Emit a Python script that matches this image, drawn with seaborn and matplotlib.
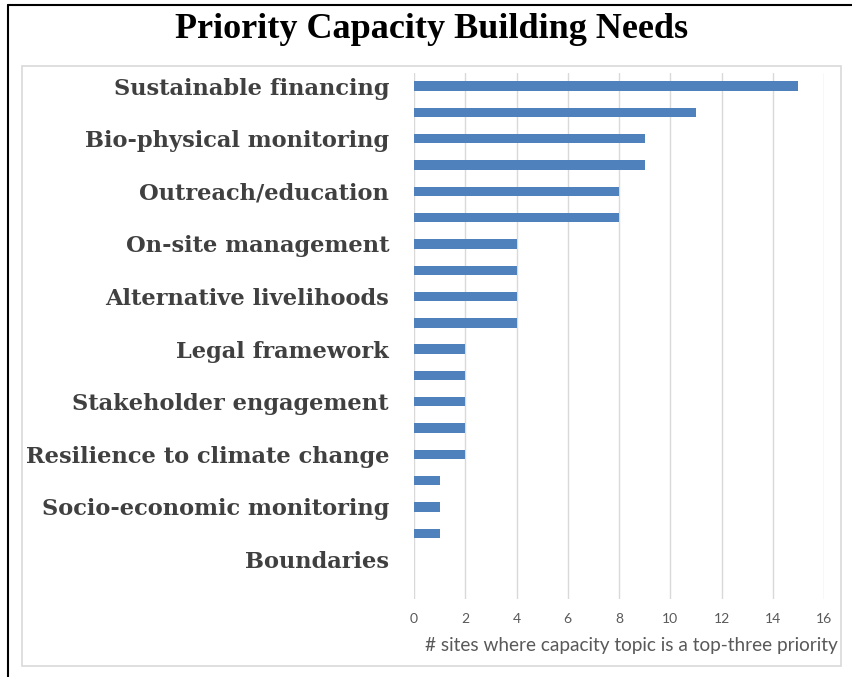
import matplotlib
matplotlib.use('Agg')
import matplotlib.pyplot as plt
import seaborn as sns
import pandas as pd
from matplotlib.lines import Line2D
from matplotlib.patches import Rectangle

# Data (20 categories; only every other label is shown in the original chart)
categories = ["Sustainable financing", "Topic 2", "Bio-physical monitoring", "Topic 4",
              "Outreach/education", "Topic 6", "On-site management", "Topic 8",
              "Alternative livelihoods", "Topic 10", "Legal framework", "Topic 12",
              "Stakeholder engagement", "Topic 14", "Resilience to climate change", "Topic 16",
              "Socio-economic monitoring", "Topic 18", "Boundaries", "Topic 20"]
values = [15, 11, 9, 9, 8, 8, 4, 4, 4, 4, 2, 2, 2, 2, 2, 1, 1, 1, 0, 0]
shown_labels = [c if i % 2 == 0 else "" for i, c in enumerate(categories)]
x_ticks = [0, 2, 4, 6, 8, 10, 12, 14, 16]

title = "Priority Capacity Building Needs"
xlabel = "# sites where capacity topic is a top-three priority"

df = pd.DataFrame({"category": categories, "value": values})

sns.set_style("white")
plt.rcParams['font.family'] = ['Lato', 'DejaVu Sans']

W, H = 852, 677
fig = plt.figure(figsize=(W / 100, H / 100), dpi=100)
fig.patch.set_facecolor('white')

ax = fig.add_axes([414 / W, 1 - 599 / H, (824 - 414) / W, (599 - 73) / H])
sns.barplot(data=df, x="value", y="category", order=categories, color="#4f81bd",
            saturation=1, width=0.36, linewidth=0, ax=ax)

ax.set_xlim(0, 16)
ax.set_ylim(len(categories) - 0.5, -0.5)
ax.set_xticks(x_ticks)
ax.set_xticklabels([str(t) for t in x_ticks], fontsize=10, color="#595959")
ax.set_yticks(range(len(categories)))
ax.set_yticklabels(shown_labels, fontfamily="DejaVu Serif", fontweight="bold",
                   fontsize=16.2, color="#404040")
ax.tick_params(axis="y", length=0, pad=18)
ax.tick_params(axis="x", length=0, pad=10)
ax.grid(axis="x", color="#d9d9d9", lw=1)
ax.grid(axis="y", visible=False)
ax.set_axisbelow(True)
for s in ax.spines.values():
    s.set_visible(False)
ax.set_xlabel("")
ax.set_ylabel("")

fig.text(838 / W, 1 - 645 / H, xlabel, ha="right", va="center", fontsize=13.7, color="#595959")
fig.text(432 / W, 1 - 38 / H, title, ha="center", va="baseline", fontsize=26,
         fontweight="bold", fontfamily="Liberation Serif", color="black")

# frames
fig.add_artist(Rectangle((22 / W, 1 - 666 / H), (841 - 22) / W, (666 - 66) / H,
                         transform=fig.transFigure, fill=False, edgecolor="#d9d9d9", lw=1.2))
fig.add_artist(Line2D([8 / W, 8 / W], [0, 1 - 5 / H], transform=fig.transFigure,
                      color="black", lw=1.5))
fig.add_artist(Line2D([8 / W, 1], [1 - 5 / H, 1 - 5 / H], transform=fig.transFigure,
                      color="black", lw=1.5))

fig.savefig("out.png", dpi=100)
